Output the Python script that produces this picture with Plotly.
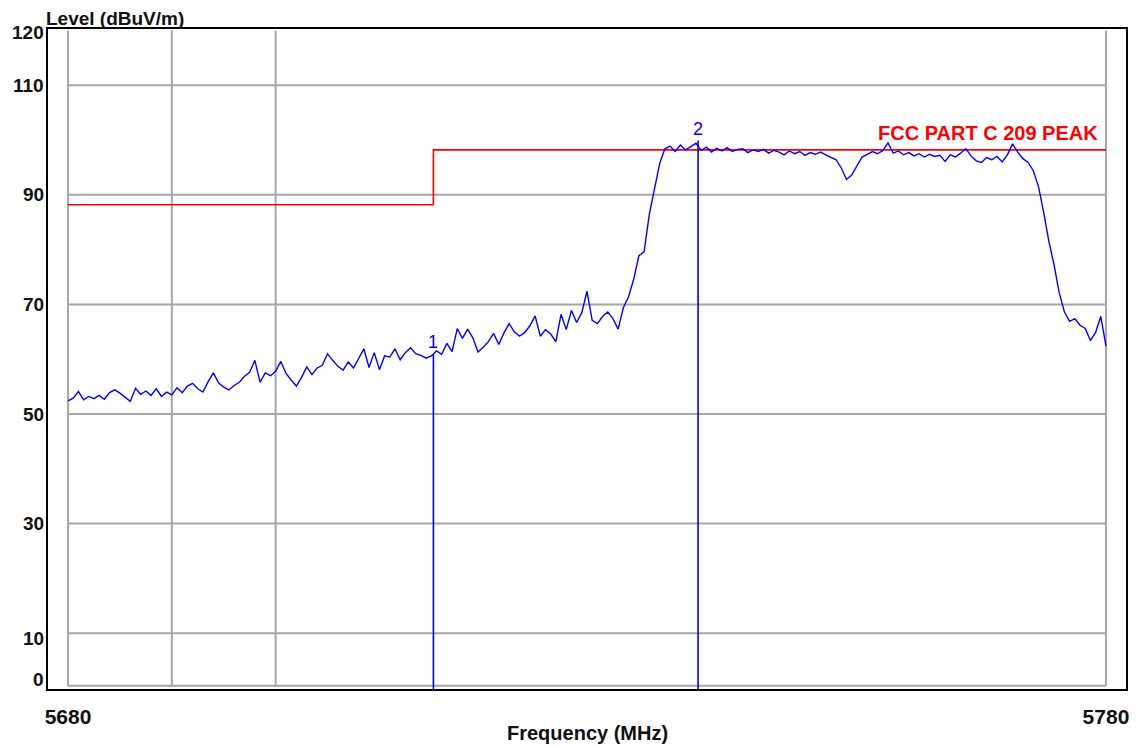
import numpy as np
import plotly.graph_objects as go

# measured level, one reading every 0.5 MHz from 5680 to 5780
level = [
    52.4, 52.9, 54.1, 52.6, 53.2, 52.8, 53.4, 52.7, 53.9, 54.4,
    53.8, 53.1, 52.3, 54.7, 53.6, 54.2, 53.4, 54.6, 53.2, 54.0,
    53.5, 54.8, 53.9, 55.1, 55.6, 54.6, 54.0, 55.9, 57.5, 55.7,
    54.9, 54.4, 55.2, 55.8, 56.9, 57.6, 59.8, 55.8, 57.5, 57.0,
    57.8, 59.6, 57.4, 56.2, 55.1, 56.7, 58.6, 57.2, 58.4, 58.9,
    61.0, 59.8, 58.7, 58.0, 59.5, 58.4, 60.1, 61.9, 58.5, 61.2,
    58.1, 60.6, 60.4, 61.9, 59.9, 61.2, 62.1, 61.0, 60.7, 60.2,
    60.6, 61.5, 60.9, 62.9, 61.4, 65.6, 63.8, 65.5, 63.9, 61.3,
    62.2, 63.2, 64.7, 62.7, 64.8, 66.5, 65.0, 64.2, 64.9, 66.1,
    67.9, 64.2, 65.4, 64.6, 63.2, 68.2, 65.4, 68.9, 66.7, 68.5,
    72.4, 67.1, 66.5, 67.8, 68.6, 67.4, 65.5, 69.4, 71.4, 74.6,
    78.9, 79.6, 86.4, 90.9, 95.7, 98.4, 98.9, 97.9, 99.1, 98.2,
    98.8, 99.4, 98.1, 98.7, 97.8, 98.5, 98.0, 98.6, 97.9, 98.3,
    98.4, 97.7, 98.2, 97.9, 98.3, 97.6, 98.1, 97.8, 97.3, 98.0,
    97.5, 97.9, 97.2, 97.7, 97.4, 97.8, 97.3, 96.9, 96.4, 94.9,
    92.8, 93.6, 95.2, 96.9, 97.4, 97.9, 97.5, 98.1, 99.5, 97.6,
    98.0, 97.3, 97.7, 97.1, 97.5, 96.9, 97.4, 97.0, 97.2, 96.1,
    97.3, 96.9, 97.6, 98.4, 97.1, 96.2, 95.9, 96.8, 96.4, 97.0,
    96.0, 97.3, 99.3, 97.8, 96.6, 95.9, 94.4, 91.5, 86.8, 81.5,
    77.2, 72.1, 68.6, 66.9, 67.4, 66.2, 65.6, 63.4, 64.9, 67.8,
    62.4,
]
freq = np.linspace(5680, 5780, len(level))

limit_freq = [5680, 5715.2, 5780]
limit_level = [88.2, 98.2, 98.2]
limit_name = "FCC PART C 209 PEAK"

marker_freq = [5715.2, 5740.7]
marker_level = [60.9, 99.9]
marker_label = ["1", "2"]

x_ticks = [5680, 5780]
y_ticks = [0, 10, 30, 50, 70, 90, 110, 120]
x_grid = [5680, 5690, 5700, 5780]
y_grid = [0.4, 10, 30, 50, 70, 90, 110]

FONT = "Liberation Sans"
tick_shift = {0: 9, 10: -5, 120: -2}

fig = go.Figure()

for gx in x_grid:
    fig.add_shape(type="line", x0=gx, x1=gx, y0=0.4, y1=120, layer="below",
                  line=dict(color="#a6a6a6", width=2))
for gy in y_grid:
    fig.add_shape(type="line", x0=x_grid[0], x1=x_grid[-1], y0=gy, y1=gy, layer="below",
                  line=dict(color="#a6a6a6", width=2))

fig.add_trace(go.Scatter(x=limit_freq, y=limit_level, mode="lines",
                         line=dict(color="#ff0000", width=1.6, shape="hv")))
fig.add_trace(go.Scatter(x=freq, y=level, mode="lines",
                         line=dict(color="#0000ff", width=1.4)))

for f, lv, lab in zip(marker_freq, marker_level, marker_label):
    fig.add_trace(go.Scatter(x=[f, f], y=[-1, lv], mode="lines",
                             line=dict(color="#0000ff", width=1.6)))
    fig.add_annotation(x=f, y=lv, text=lab, showarrow=False, yanchor="bottom", yshift=0,
                       font=dict(family=FONT, size=18, color="#0000ff"))

fig.add_annotation(x=limit_freq[-1], y=limit_level[-1], text=limit_name, showarrow=False,
                   xanchor="right", yanchor="middle", xshift=-6, yshift=17,
                   font=dict(family=FONT, size=20, color="#ff0000", weight="bold"))

for t in y_ticks:
    fig.add_annotation(x=0, xref="paper", y=t, text=str(t), showarrow=False,
                       xanchor="right", yanchor="middle", xshift=-2, yshift=tick_shift.get(t, 0),
                       font=dict(family=FONT, size=19, color="#111111", weight="bold"))

fig.add_annotation(x=0, xref="paper", y=1, yref="paper", text="Level (dBuV/m)", showarrow=False,
                   xanchor="left", yanchor="middle", xshift=-3, yshift=11, borderpad=0,
                   font=dict(family=FONT, size=19, color="#111111", weight="bold"))
fig.add_annotation(x=0.5, xref="paper", y=0, yref="paper", text="Frequency (MHz)", showarrow=False,
                   xanchor="center", yanchor="middle", yshift=-44,
                   font=dict(family=FONT, size=20, color="#111111", weight="bold"))

fig.update_xaxes(range=[5678.07, 5781.93], tickvals=x_ticks, showgrid=False, zeroline=False,
                 showline=True, mirror=True, linecolor="black", linewidth=2, ticks="",
                 ticklabelstandoff=8,
                 tickfont=dict(family=FONT, size=21, color="#111111", weight="bold"))
fig.update_yaxes(range=[-0.18, 120.26], showticklabels=False, showgrid=False, zeroline=False,
                 showline=True, mirror=True, linecolor="black", linewidth=2, ticks="")

# the page keeps an 8px body margin, so the figure is 8px smaller each way
fig.update_layout(width=1134, height=739, showlegend=False,
                  margin=dict(l=40, r=16, t=21, b=58),
                  paper_bgcolor="white", plot_bgcolor="white")

fig.write_html("out.html")
